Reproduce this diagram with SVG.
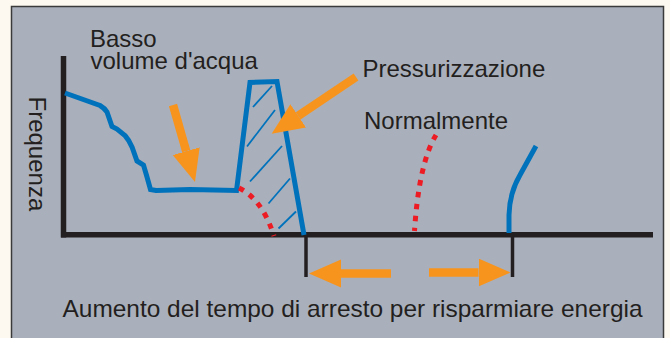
<svg xmlns="http://www.w3.org/2000/svg" width="670" height="338" viewBox="0 0 670 338">
  <style>
    .lbl { font-family: "Liberation Sans", Arial, sans-serif; font-size: 24px; fill: #231f20; }
    .axis { stroke: #231f20; stroke-width: 5.5; fill: none; }
    .tick { stroke: #231f20; stroke-width: 3.5; fill: none; }
    .curve { stroke: #0072bc; stroke-width: 5; fill: none; stroke-linejoin: miter; }
    .hatch { stroke: #0072bc; stroke-width: 1.8; fill: none; }
    .dots { stroke: #ed1c24; stroke-width: 5; fill: none; stroke-dasharray: 5.5 6.5; }
    .arrow { stroke: #f7941d; stroke-width: 8.5; fill: none; marker-end: url(#head); }
  </style>
  <defs>
    <marker id="head" markerUnits="userSpaceOnUse" markerWidth="34" markerHeight="30" refX="0" refY="14" orient="auto">
      <path d="M0,0 L32,14 L0,28 z" fill="#f7941d"/>
    </marker>
  </defs>
  <rect x="0" y="0" width="670" height="338" fill="#fdf9f1"/>
  <rect id="panel" x="11.5" y="6.5" width="652" height="340" fill="#aab0bb" stroke="#3a3a3a" stroke-width="1.5"/>

  <g id="axes">
    <line class="axis" x1="63.5" y1="56" x2="63.5" y2="237.5"/>
    <line class="axis" x1="61" y1="234.8" x2="653" y2="234.8"/>
  </g>

  <g id="frequency-curve">
    <path class="curve" d="M65,93 L100,105.5 Q105,108.5 107,112 L112,126.5 L117,129 L125,135.5 Q129,140 132,147 L137,161 L143.5,165 L147,177 L150.5,189.5 L156,190.5 L190,189.5 L236.5,190.5 L250,82.5 L277,81.5 L304,235"/>
    <g id="hatching">
      <line class="hatch" x1="253" y1="107" x2="272" y2="86"/>
      <line class="hatch" x1="247" y1="146.5" x2="275" y2="110"/>
      <line class="hatch" x1="250" y1="181.5" x2="282" y2="146"/>
      <line class="hatch" x1="268.5" y1="203.5" x2="290" y2="178.5"/>
      <line class="hatch" x1="278.5" y1="228.5" x2="296" y2="211.5"/>
    </g>
    <path class="dots" d="M239,188 Q262,199 274,236"/>
  </g>

  <g id="normal-curve">
    <path class="dots" d="M436,135 Q419,163 414.5,231"/>
  </g>

  <g id="right-curve">
    <path class="curve" d="M536,146 L520,175 Q509.5,193 509,215 L509,233"/>
  </g>

  <g id="connectors">
    <line class="arrow" x1="173" y1="105" x2="186.2" y2="151.2"/>
    <line class="arrow" x1="356" y1="77" x2="298.2" y2="115.9"/>
    <line class="tick" x1="306" y1="235" x2="306" y2="277"/>
    <line class="tick" x1="512.5" y1="235" x2="512.5" y2="277"/>
    <line class="arrow" x1="391" y1="273.5" x2="341" y2="273.5"/>
    <line class="arrow" x1="429" y1="272.5" x2="478.5" y2="272.5"/>
  </g>

  <g id="labels">
    <text class="lbl" x="90" y="46.5">Basso<tspan x="90.5" y="69.3">volume d'acqua</tspan></text>
    <text class="lbl" x="362.5" y="77.3">Pressurizzazione</text>
    <text class="lbl" x="364" y="129.3">Normalmente</text>
    <text class="lbl" transform="translate(28.5,96.5) rotate(90)">Frequenza</text>
    <text class="lbl" x="62.5" y="316.7" textLength="580" lengthAdjust="spacingAndGlyphs">Aumento del tempo di arresto per risparmiare energia</text>
  </g>
</svg>
